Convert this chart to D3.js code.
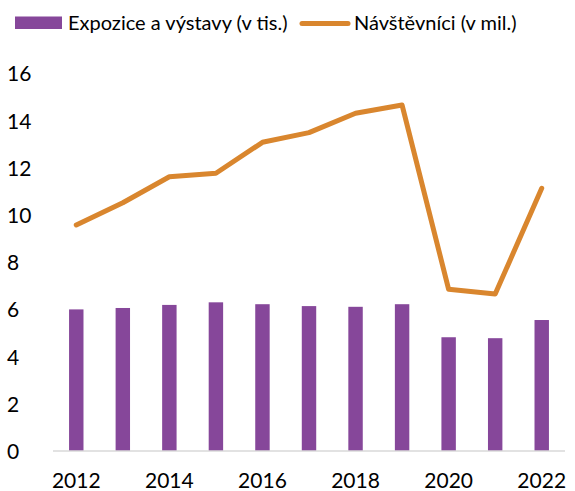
<!DOCTYPE html>
<html><head><meta charset="utf-8">
<script src="https://cdn.jsdelivr.net/npm/d3@7"></script>
<style>body{margin:0;background:#fff}svg{display:block}text{font-family:Lato,"Open Sans",sans-serif;fill:#000}</style>
</head><body>
<script>
const years = [2012,2013,2014,2015,2016,2017,2018,2019,2020,2021,2022];
const expozice = [6.00,6.06,6.19,6.30,6.22,6.14,6.11,6.22,4.82,4.78,5.55];
const navstevnici = [9.58,10.52,11.62,11.77,13.08,13.49,14.31,14.66,6.85,6.65,11.13];
const yTicks = [0,2,4,6,8,10,12,14,16];
const xTickYears = [2012,2014,2016,2018,2020,2022];
const seriesNames = ["Expozice a výstavy (v tis.)","Návštěvníci (v mil.)"];

const W=575,H=491;
const svg=d3.select("body").append("svg").attr("width",W).attr("height",H);
const x=d3.scaleBand().domain(years).range([53,565]).paddingInner(0.69).paddingOuter(0.345);
const y=d3.scaleLinear().domain([0,16]).range([451,73.4]);
const purple="#86479A", orange="#D9862E";

svg.append("g").selectAll("rect").data(years).join("rect")
  .attr("x",d=>x(d)).attr("width",x.bandwidth())
  .attr("y",(d,i)=>y(expozice[i])).attr("height",(d,i)=>y(0)-y(expozice[i]))
  .attr("fill",purple);

svg.append("line").attr("x1",53).attr("x2",565).attr("y1",y(0)).attr("y2",y(0))
  .attr("stroke","#D9D9D9").attr("stroke-width",1.5);

const line=d3.line().x((d,i)=>x(years[i])+x.bandwidth()/2).y(d=>y(d));
svg.append("path").datum(navstevnici).attr("d",line).attr("fill","none")
  .attr("stroke",orange).attr("stroke-width",5).attr("stroke-linecap","round").attr("stroke-linejoin","round");

const yAxis=d3.axisLeft(y).tickValues(yTicks).tickSize(0).tickFormat(d3.format("d"));
const gy=svg.append("g").attr("transform","translate(7,0)").call(yAxis);
gy.select(".domain").remove();
gy.selectAll("text").attr("text-anchor","start").attr("x",0).attr("dy","0.36em").style("font-size","21px").style("font-family","Lato,sans-serif");

const xAxis=d3.axisBottom(x).tickValues(xTickYears).tickSize(0);
const gx=svg.append("g").attr("transform","translate(0,473)").call(xAxis);
gx.select(".domain").remove();
gx.selectAll("text").attr("y",0).attr("dy","0.71em").style("font-size","21px").style("font-family","Lato,sans-serif");

const lg=svg.append("g");
lg.append("rect").attr("x",15).attr("y",16.5).attr("width",47).attr("height",12.5).attr("fill",purple);
lg.append("text").attr("x",68).attr("y",30).style("font-size","20px").text(seriesNames[0]);
lg.append("line").attr("x1",302).attr("x2",348).attr("y1",23.5).attr("y2",23.5).attr("stroke",orange).attr("stroke-width",5).attr("stroke-linecap","round");
lg.append("text").attr("x",354).attr("y",30).style("font-size","20px").text(seriesNames[1]);
</script>
</body></html>
